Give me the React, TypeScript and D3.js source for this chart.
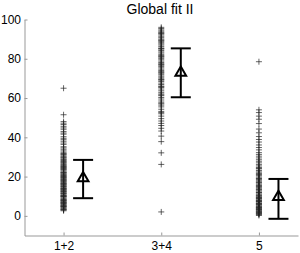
import React, { useEffect, useRef } from "react";
import * as d3 from "d3";

const categories = ["1+2", "3+4", "5"];
const yTicks = [0, 20, 40, 60, 80, 100];

// individual fits per group
const group12 = [
  65, 51.5, 48, 47.2, 46.5, 45.6, 44.8, 44.1, 43, 42.2, 41.6, 40.3, 39.5, 38.8,
  38, 37.1, 36.4, 35.2, 34.6, 33.9, 33.1, 32.4, 31.8, 31.2, 30.6, 30.1, 29.4,
  28.9, 28.2, 27.7, 27.1, 26.6, 26.2, 25.5, 25.1, 24.6, 24.2, 23.7, 23.3, 22.8,
  22.3, 21.9, 21.4, 20.8, 20.5, 20, 19.6, 19.1, 18.7, 18.2, 17.9, 17.3, 16.9,
  16.4, 16.1, 15.6, 15.2, 14.7, 14.3, 13.8, 13.5, 13, 12.6, 12.1, 11.7, 11.3,
  10.8, 10.4, 10, 9.6, 9.1, 8.7, 8.3, 7.9, 7.4, 7, 6.6, 6.2, 5.8, 5.4, 5, 4.6,
  4.2, 3.8, 3.4, 3, 2.6, 31.5, 29.8, 27.4, 25.8, 23.9, 22, 20.2, 18.4, 16.6,
  14.9, 13.2, 11.5, 9.8, 8.1, 6.4, 4.8, 3.2, 28.6, 24.9, 21.2, 17.6, 13.9,
  10.2, 6.9, 5.1, 7.7, 12.4, 15.8, 19.4
];
const group34 = [
  96, 95.4, 94.7, 94.1, 93.5, 92.8, 92.2, 91.5, 90.9, 90.1, 89.6, 88.9, 88.2,
  87.6, 87, 86.3, 85.5, 84.9, 84.2, 83.5, 82.9, 82.1, 81.6, 80.8, 80.2, 79.5,
  78.8, 78.1, 77.5, 76.7, 76.1, 75.4, 74.7, 74, 73.4, 72.6, 71.9, 71.2, 70.6,
  69.8, 69.1, 68.4, 67.6, 66.9, 66.1, 65.4, 64.6, 63.7, 62.9, 62.1, 61.2, 60.3,
  59.5, 58.5, 57.6, 56.4, 55.5, 54.3, 53.2, 52, 50.8, 49.5, 48.3, 47.1, 46,
  44.6, 43.2, 40.6, 37.8, 32.1, 26.2, 2, 93.1, 89.2, 85.2, 81.2, 77.1, 73.1,
  69.4, 65.8, 61.6, 57.1, 52.6
];
const group5 = [
  78.5, 54, 52.6, 50.8, 49.2, 47, 44.2, 42.3, 40.4, 38.9, 37.6, 36.1, 34.8,
  33.6, 32.2, 31.3, 30.4, 29.5, 28.6, 27.8, 27, 26.1, 25.4, 24.6, 23.9, 23.1,
  22.4, 21.8, 21.1, 20.5, 19.8, 19.2, 18.5, 17.9, 17.3, 16.7, 16.1, 15.5, 14.9,
  14.4, 13.8, 13.2, 12.7, 12.1, 11.6, 11, 10.5, 10, 9.5, 9, 8.5, 8, 7.5, 7.1,
  6.6, 6.1, 5.7, 5.2, 4.8, 4.3, 3.9, 3.4, 3, 2.6, 2.1, 1.7, 1.3, 0.9, 0.2,
  1.1, 2.4, 3.6, 4.5, 5.9, 7.3, 8.8, 10.2, 11.9, 13.5, 15.2, 17.1, 19, 21.4,
  24.2, 0.6, 1.9, 3.2, 4.1, 6.3, 7.8, 9.3
];
const groupValues = [group12, group34, group5];

// mean and spread markers
const means = [19.2, 72.9, 9.6];
const upper = [28.5, 85.3, 18.8];
const lower = [9, 60.4, -1.5];

export default function App() {
  const ref = useRef<SVGSVGElement>(null);

  useEffect(() => {
    const width = 300;
    const height = 253;
    const svg = d3.select(ref.current);
    svg.selectAll("*").remove();

    const x = d3.scaleLinear().domain([0.6, 3.4]).range([24.5, 298]);
    const y = d3.scaleLinear().domain([-10, 100]).range([235.5, 19.5]);

    const font = "'Liberation Sans', Arial, sans-serif";

    svg
      .append("text")
      .attr("x", 160)
      .attr("y", 13.5)
      .attr("text-anchor", "middle")
      .attr("font-family", font)
      .attr("font-size", 14)
      .text("Global fit II");

    // axes (ticks pointing inward)
    const yAxis = d3
      .axisLeft(y)
      .tickValues(yTicks)
      .tickSize(-3)
      .tickPadding(3.5)
      .tickSizeOuter(0);
    const gy = svg.append("g").attr("transform", `translate(${x(0.6)},0)`).call(yAxis);

    const xAxis = d3
      .axisBottom(x)
      .tickValues([1, 2, 3])
      .tickFormat((d) => categories[(d as number) - 1])
      .tickSize(-3)
      .tickPadding(6)
      .tickSizeOuter(0);
    const gx = svg.append("g").attr("transform", `translate(0,${y(-10)})`).call(xAxis);

    [gx, gy].forEach((g) => {
      g.select(".domain").attr("stroke", "#999").attr("stroke-width", 1);
      g.selectAll(".tick line").attr("stroke", "#999");
      g.selectAll(".tick text")
        .attr("font-family", font)
        .attr("font-size", 12)
        .attr("fill", "#000");
    });

    // scatter of individual fits
    groupValues.forEach((vals, i) => {
      svg
        .append("g")
        .selectAll("path")
        .data(vals)
        .enter()
        .append("path")
        .attr("transform", (d) => `translate(${x(i + 1)},${y(d)})`)
        .attr("d", "M-3,0H3M0,-3V3")
        .attr("stroke", "#222")
        .attr("stroke-width", 0.7)
        .attr("fill", "none");
    });

    // error bars with mean triangles
    categories.forEach((c, i) => {
      const cx = x(i + 1.2);
      const g = svg.append("g").attr("stroke", "#000").attr("stroke-width", 2).attr("fill", "none");
      g.append("line").attr("x1", cx).attr("x2", cx).attr("y1", y(upper[i])).attr("y2", y(lower[i]));
      g.append("line").attr("x1", cx - 10).attr("x2", cx + 10).attr("y1", y(upper[i])).attr("y2", y(upper[i]));
      g.append("line").attr("x1", cx - 10).attr("x2", cx + 10).attr("y1", y(lower[i])).attr("y2", y(lower[i]));
      g.append("path")
        .attr("transform", `translate(${cx},${y(means[i])})`)
        .attr("d", d3.symbol(d3.symbolTriangle, 50)());
    });

    svg.attr("width", width).attr("height", height);
  }, []);

  return (
    <svg
      ref={ref}
      width={300}
      height={253}
      style={{ position: "absolute", left: 0, top: 0, background: "#fff" }}
    />
  );
}
